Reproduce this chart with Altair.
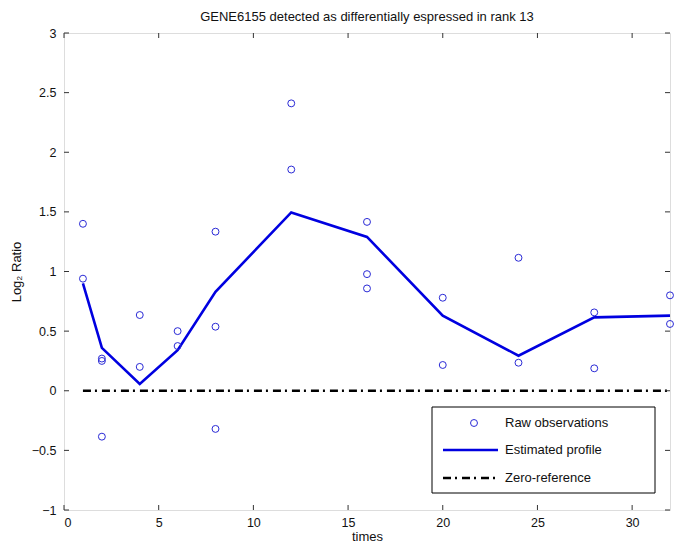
import altair as alt
import pandas as pd

# ---- data ----
obs_time = [1, 1, 2, 2, 2, 4, 4, 6, 6, 8, 8, 8, 12, 12, 16, 16, 16,
            20, 20, 24, 24, 28, 28, 32, 32]
obs_value = [1.40, 0.94, 0.27, 0.25, -0.385, 0.635, 0.20, 0.50, 0.375,
             1.334, 0.537, -0.32, 2.41, 1.855, 1.416, 0.978, 0.858,
             0.78, 0.216, 1.115, 0.235, 0.657, 0.188, 0.80, 0.56]

prof_time = [1, 2, 4, 6, 8, 12, 16, 20, 24, 28, 32]
prof_value = [0.90, 0.36, 0.057, 0.34, 0.83, 1.495, 1.29, 0.63, 0.294, 0.615, 0.63]

zero_time = [1, 32]
zero_value = [0, 0]

x_ticks = [0, 5, 10, 15, 20, 25, 30]
y_ticks = [-1, -0.5, 0, 0.5, 1, 1.5, 2, 2.5, 3]

legend_labels = ["Raw observations", "Estimated profile", "Zero-reference"]

TITLE = "GENE6155 detected as differentially espressed in rank 13"
FONT = "Liberation Sans"
W, H = 606, 477

obs_df = pd.DataFrame({"t": obs_time, "v": obs_value})
prof_df = pd.DataFrame({"t": prof_time, "v": prof_value})
zero_df = pd.DataFrame({"t": zero_time, "v": zero_value})
xt_df = pd.DataFrame({"t": x_ticks})
yt_df = pd.DataFrame({"v": y_ticks})
one = alt.Data(values=[{"a": 1}])

xs = alt.Scale(domain=[0, 32], nice=False, zero=False)
ys = alt.Scale(domain=[-1, 3], nice=False, zero=False)

common = dict(ticks=False, domain=False, grid=False,
              labelFont=FONT, labelFontSize=12.5, labelColor="#111111",
              titleFont=FONT, titleFontSize=13, titleFontWeight="normal",
              titleColor="#111111")
x_axis = alt.Axis(values=x_ticks, format="~g", labelPadding=6, title="times",
                  titlePadding=2, **common)
y_axis = alt.Axis(values=y_ticks, format="~g", labelPadding=8, title="Log₂ Ratio",
                  titlePadding=8, **common)

zero_line = alt.Chart(zero_df).mark_line(
    color="black", strokeWidth=2.5, strokeDash=[8, 4, 2, 5]
).encode(
    x=alt.X("t:Q", scale=xs, axis=x_axis),
    y=alt.Y("v:Q", scale=ys, axis=y_axis),
)

profile = alt.Chart(prof_df).mark_line(color="#0000e0", strokeWidth=2.6).encode(
    x=alt.X("t:Q", scale=xs), y=alt.Y("v:Q", scale=ys)
)

points = alt.Chart(obs_df).mark_point(
    shape="circle", filled=False, color="#2a2ad6", size=48, strokeWidth=1, opacity=1
).encode(x=alt.X("t:Q", scale=xs), y=alt.Y("v:Q", scale=ys))

tick_color = "#333333"
bottom_ticks = alt.Chart(xt_df).mark_rule(color=tick_color, strokeWidth=1).encode(
    x=alt.X("t:Q", scale=xs), y=alt.value(H), y2=alt.value(H - 5))
top_ticks = alt.Chart(xt_df).mark_rule(color=tick_color, strokeWidth=1).encode(
    x=alt.X("t:Q", scale=xs), y=alt.value(0), y2=alt.value(5))
left_ticks = alt.Chart(yt_df).mark_rule(color=tick_color, strokeWidth=1).encode(
    y=alt.Y("v:Q", scale=ys), x=alt.value(0), x2=alt.value(5))
right_ticks = alt.Chart(yt_df).mark_rule(color=tick_color, strokeWidth=1).encode(
    y=alt.Y("v:Q", scale=ys), x=alt.value(W), x2=alt.value(W - 5))

# ---- legend box (MATLAB style) ----
lx0, lx1, ly0, ly1 = 368, 591, 374, 460
row_y = [390, 417, 445]
legend_box = alt.Chart(one).mark_rect(fill="white", stroke="black", strokeWidth=1).encode(
    x=alt.value(lx0), x2=alt.value(lx1), y=alt.value(ly0), y2=alt.value(ly1))
leg_point = alt.Chart(one).mark_point(
    shape="circle", filled=False, color="#2a2ad6", size=48, strokeWidth=1, opacity=1
).encode(x=alt.value(410), y=alt.value(row_y[0]))
leg_line = alt.Chart(one).mark_rule(color="#0000e0", strokeWidth=2.6).encode(
    x=alt.value(379), x2=alt.value(434), y=alt.value(row_y[1]))
leg_zero = alt.Chart(one).mark_rule(color="black", strokeWidth=2.5, strokeDash=[8, 4, 2, 5]).encode(
    x=alt.value(379), x2=alt.value(434), y=alt.value(row_y[2]))
leg_texts = [
    alt.Chart(one).mark_text(align="left", baseline="middle", font=FONT, fontSize=13,
                             color="#111111").encode(
        x=alt.value(441), y=alt.value(row_y[i]), text=alt.value(legend_labels[i]))
    for i in range(3)
]

chart = alt.layer(
    zero_line, profile, points,
    bottom_ticks, top_ticks, left_ticks, right_ticks,
    legend_box, leg_point, leg_line, leg_zero, *leg_texts,
).properties(
    width=W, height=H,
    title=alt.TitleParams(TITLE, font=FONT, fontSize=13, fontWeight="normal",
                          anchor="middle", offset=3, color="#111111"),
    autosize=alt.AutoSizeParams(type="none"),
    padding={"left": 56, "top": 25, "right": 7, "bottom": 40},
).configure_view(
    stroke=tick_color, strokeWidth=1
).configure(background="white")

chart.save("out.html", embed_options={"renderer": "svg", "actions": False})
